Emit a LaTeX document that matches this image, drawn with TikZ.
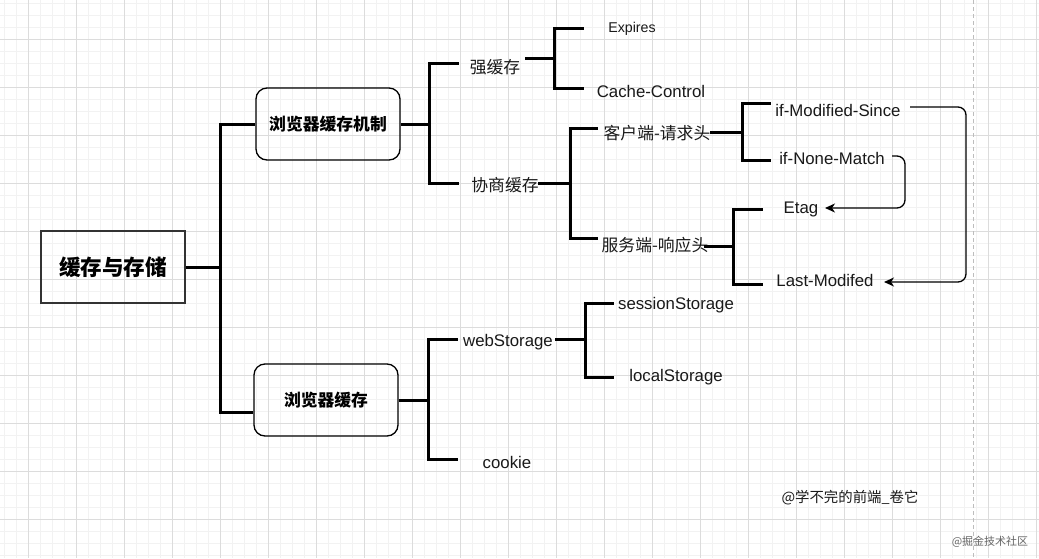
\documentclass[tikz,border=0pt]{standalone}
\usepackage{fontspec}
\setmainfont{Liberation Sans}
\newfontfamily\cjk{Noto Sans CJK SC}
\usetikzlibrary{arrows.meta}
\newcommand\latinlbl{\fontsize{16.8}{20}\selectfont}
\newcommand\latinsmall{\fontsize{14.2}{17}\selectfont}
\newcommand\cjklbl{\cjk\fontsize{16.8}{20}\selectfont}
\newcommand\cjkboxfont{\cjk\bfseries\fontsize{16.8}{20}\selectfont}
\newcommand\cjkrootfont{\cjk\bfseries\fontsize{21.6}{26}\selectfont}
\definecolor{gridmajor}{HTML}{DCDCDC}
\definecolor{gridminor}{HTML}{F2F2F2}
\definecolor{dashgray}{HTML}{BDBDBD}
\tikzset{
  rootbox/.style={draw=black!80, line width=1.3pt, minimum width=144pt, minimum height=72pt, inner sep=0pt, font=\cjkrootfont},
  catbox/.style={draw=black, line width=1.3pt, rounded corners=11pt, minimum width=144pt, minimum height=72pt, inner sep=0pt, font=\cjkboxfont},
  branch/.style={line width=3pt, line join=miter},
  latlbl/.style={inner sep=0pt, font=\latinlbl, text=black!90},
  latsmall/.style={inner sep=0pt, font=\latinsmall, text=black!90},
  cjklabel/.style={inner sep=0pt, font=\cjklbl, text=black!90},
  linkarrow/.style={line width=1.3pt, rounded corners=8pt, -{Stealth[length=10pt,width=9pt,inset=3pt]}},
}
\begin{document}
\begin{tikzpicture}[x=1pt,y=-1pt]
\useasboundingbox (0,0) rectangle (1039,558);
\fill[white] (0,0) rectangle (1039,558);
% grid
\foreach \x in {4,16,...,1036} \draw[gridminor, line width=0.8pt] (\x,0) -- (\x,558);
\foreach \y in {3,15,...,555} \draw[gridminor, line width=0.8pt] (0,\y) -- (1039,\y);
\foreach \x in {28,76,...,1036} \draw[gridmajor, line width=0.9pt] (\x,0) -- (\x,558);
\foreach \y in {39,87,...,555} \draw[gridmajor, line width=0.9pt] (0,\y) -- (1039,\y);
\draw[dashgray, line width=0.9pt, dash pattern=on 4pt off 3pt] (973,0) -- (973,558);

% boxes
\node[rootbox] (root) at (113,267) {缓存与存储};
\node[catbox] (mech) at (328,124) {浏览器缓存机制};
\node[catbox] (bstore) at (326,400) {浏览器缓存};

% labels
\node[cjklabel] (strong) at (495,67) {强缓存};
\node[cjklabel] (nego) at (505,185) {协商缓存};
\node[latsmall] (expires) at (632,29) {Expires};
\node[latlbl] (cc) at (651,91) {Cache-Control};
\node[cjklabel] (client) at (657,133) {客户端-请求头};
\node[cjklabel] (server) at (655,245) {服务端-响应头};
\node[latlbl] (ims) at (838,110) {if-Modified-Since};
\node[latlbl] (inm) at (832,158) {if-None-Match};
\node[latlbl] (etag) at (801,209) {Etag};
\node[latlbl] (lastmod) at (825,280) {Last-Modifed};
\node[latlbl] (web) at (508,342) {webStorage};
\node[latlbl] (cookie) at (507,462) {cookie};
\node[latlbl] (session) at (676,305) {sessionStorage};
\node[latlbl] (local) at (676,377) {localStorage};
\node[inner sep=0pt, font=\cjk\fontsize{14.4}{17}\selectfont, text=black!90] (sign) at (850,498) {@学不完的前端\_卷它};
\node[inner sep=0pt, font=\cjk\fontsize{11}{13}\selectfont, text=black!60] (mark) at (990,542) {@掘金技术社区};

% junction / end coordinates
\coordinate (j0) at (220,267);
\coordinate (j1) at (429,124);
\coordinate (e1a) at (459,63);
\coordinate (e1b) at (459,183);
\coordinate (s2) at (525,58);
\coordinate (j2) at (554,58);
\coordinate (e2a) at (584,28);
\coordinate (e2b) at (584,88);
\coordinate (s3) at (538,183);
\coordinate (j3) at (570,183);
\coordinate (e3a) at (598,128);
\coordinate (e3b) at (598,238);
\coordinate (s4) at (710,132);
\coordinate (j4) at (742,132);
\coordinate (e4a) at (771,103);
\coordinate (e4b) at (771,160);
\coordinate (s5) at (704,246);
\coordinate (j5) at (733,246);
\coordinate (e5a) at (763,209);
\coordinate (e5b) at (763,284);
\coordinate (j6) at (428,400);
\coordinate (e6a) at (458,339);
\coordinate (e6b) at (458,459);
\coordinate (s7) at (555,339);
\coordinate (j7) at (585,339);
\coordinate (e7a) at (614,303);
\coordinate (e7b) at (614,377);
\coordinate (a1s) at (892,156);
\coordinate (a1t) at (825,208);
\coordinate (a2s) at (910,107);
\coordinate (a2t) at (884,282);

% tree connectors
\draw[branch] (root.east) -- (j0);
\draw[branch] (j0) |- (mech.west);
\draw[branch] (j0) |- ([yshift=-12pt]bstore.west);
\draw[branch] (mech.east) -- (j1);
\draw[branch] (j1) |- (e1a);
\draw[branch] (j1) |- (e1b);
\draw[branch] (s2) -- (j2);
\draw[branch] (j2) |- (e2a);
\draw[branch] (j2) |- (e2b);
\draw[branch] (s3) -- (j3);
\draw[branch] (j3) |- (e3a);
\draw[branch] (j3) |- (e3b);
\draw[branch] (s4) -- (j4);
\draw[branch] (j4) |- (e4a);
\draw[branch] (j4) |- (e4b);
\draw[branch] (s5) -- (j5);
\draw[branch] (j5) |- (e5a);
\draw[branch] (j5) |- (e5b);
\draw[branch] (bstore.east) -- (j6);
\draw[branch] (j6) |- (e6a);
\draw[branch] (j6) |- (e6b);
\draw[branch] (s7) -- (j7);
\draw[branch] (j7) |- (e7a);
\draw[branch] (j7) |- (e7b);

% arrows
\draw[linkarrow] (a1s) -- ++(13,0) |- (a1t);
\draw[linkarrow] (a2s) -- ++(56,0) |- (a2t);
\end{tikzpicture}
\end{document}
